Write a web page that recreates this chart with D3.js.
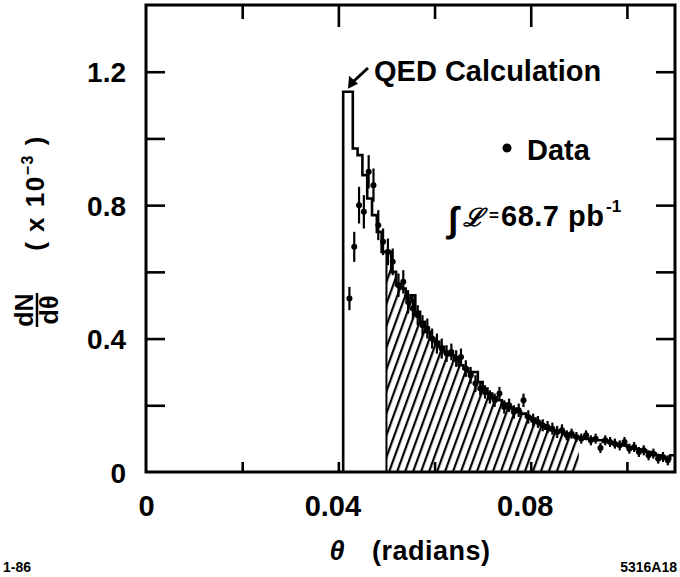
<!DOCTYPE html>
<html><head><meta charset="utf-8">
<script src="https://cdn.jsdelivr.net/npm/d3@7"></script>
<style>
body{margin:0;background:#fff}
svg{display:block}
text{font-family:"Liberation Sans",Arial,sans-serif;font-weight:bold;fill:#000}
</style>
</head><body>
<svg id="c" width="680" height="577"></svg>
<script>
// ---- data ----
const histTheta = [0.041,0.042,0.043,0.044,0.045,0.046,0.047,0.048,0.049,0.050,
  0.051,0.052,0.053,0.054,0.055,0.056,0.057,0.058,0.059,0.060,
  0.061,0.062,0.063,0.064,0.065,0.066,0.067,0.068,0.069,0.070,
  0.071,0.072,0.073,0.074,0.075,0.076,0.077,0.078,0.079,0.080,
  0.081,0.082,0.083,0.084,0.085,0.086,0.087,0.088,0.089,0.090,
  0.091,0.092,0.093,0.094,0.095,0.096,0.097,0.098,0.099,0.100,
  0.101,0.102,0.103,0.104,0.105,0.106,0.107,0.108,0.109];
const histValue = [1.14,1.14,0.97,0.95,0.89,0.82,0.77,0.72,0.66,0.66,
  0.60,0.56,0.55,0.52,0.53,0.48,0.45,0.42,0.40,0.39,
  0.375,0.36,0.35,0.335,0.32,0.31,0.30,0.30,0.27,0.25,
  0.235,0.225,0.215,0.205,0.195,0.19,0.18,0.175,0.165,0.16,
  0.15,0.14,0.13,0.125,0.12,0.12,0.115,0.11,0.105,0.105,
  0.10,0.10,0.095,0.095,0.09,0.09,0.085,0.08,0.08,0.075,
  0.07,0.068,0.065,0.06,0.055,0.05,0.045,0.04,0.05];
const histEnd = 0.110;

const dataTheta = [0.0423,0.0433,0.0443,0.0453,0.0463,0.0473,0.0483,0.0493,0.0503,0.0513,
  0.0525,0.0535,0.0545,0.0555,0.0565,0.0575,0.0585,0.0595,0.0605,0.0615,
  0.0625,0.0635,0.0645,0.0655,0.0665,0.0675,0.0685,0.0695,0.0705,0.0715,
  0.0725,0.0735,0.0745,0.0755,0.0765,0.0775,0.0785,0.0795,0.0805,0.0815,
  0.0825,0.0835,0.0845,0.0855,0.0865,0.0875,0.0885,0.0895,0.0905,0.0915,
  0.0925,0.0935,0.0945,0.0955,0.0965,0.0975,0.0985,0.0995,0.1005,0.1015,
  0.1025,0.1035,0.1045,0.1055,0.1065,0.1075,0.1085];
const dataValue = [0.52,0.675,0.80,0.78,0.90,0.86,0.74,0.69,0.66,0.63,
  0.56,0.57,0.51,0.49,0.47,0.44,0.43,0.40,0.385,0.37,
  0.355,0.36,0.34,0.345,0.31,0.29,0.265,0.25,0.24,0.225,
  0.215,0.235,0.195,0.20,0.18,0.185,0.215,0.165,0.155,0.15,
  0.14,0.135,0.13,0.12,0.125,0.11,0.115,0.105,0.10,0.11,
  0.095,0.10,0.072,0.095,0.09,0.085,0.08,0.09,0.07,0.075,
  0.06,0.065,0.05,0.055,0.04,0.045,0.035];
const dataError = [0.035,0.045,0.055,0.05,0.05,0.05,0.045,0.04,0.04,0.04,
  0.035,0.035,0.035,0.03,0.03,0.03,0.03,0.03,0.03,0.03,
  0.025,0.025,0.025,0.025,0.025,0.025,0.025,0.02,0.02,0.02,
  0.02,0.02,0.02,0.02,0.02,0.02,0.02,0.02,0.02,0.018,
  0.018,0.018,0.018,0.018,0.018,0.015,0.015,0.015,0.015,0.015,
  0.015,0.015,0.015,0.015,0.015,0.015,0.015,0.015,0.015,0.015,
  0.015,0.015,0.015,0.015,0.015,0.015,0.015];

const shadedRange = [0.050, 0.090];

const yTickValues = [0.2,0.4,0.6,0.8,1.0,1.2];
const yLabelValues = [0,0.4,0.8,1.2];
const yLabelText = ["0","0.4","0.8","1.2"];
const xTickValues = [0.02,0.04,0.06,0.08,0.10];
const xMajorTicks = [0.04,0.08];
const xLabelValues = [0,0.04,0.08];
const xLabelText = ["0","0.04","0.08"];

// ---- scales ----
const x = d3.scaleLinear().domain([0,0.11]).range([146,675]);
const y = d3.scaleLinear().domain([0,1.4]).range([472,5]);

const svg = d3.select("#c");

// hatch pattern
const defs = svg.append("defs");
const pat = defs.append("pattern").attr("id","hatch").attr("patternUnits","userSpaceOnUse")
  .attr("width",7.5).attr("height",30).attr("patternTransform","rotate(20)");
pat.append("line").attr("x1",2).attr("x2",2).attr("y1",-5).attr("y2",35)
  .attr("stroke","#000").attr("stroke-width",2.2);

// shaded area (under histogram within range)
const shadePts = [];
histTheta.forEach((t,i)=>{ if(t>=shadedRange[0]-1e-9 && t<shadedRange[1]-1e-9) shadePts.push([t,histValue[i]]); });
shadePts.push([shadedRange[1], shadePts[shadePts.length-1][1]]);
svg.append("path").datum(shadePts)
  .attr("d", d3.area().x(d=>x(d[0])).y0(y(0)).y1(d=>y(d[1])).curve(d3.curveStepAfter))
  .attr("fill","url(#hatch)").attr("stroke","none");
svg.append("line").attr("x1",x(shadedRange[0])).attr("x2",x(shadedRange[0]))
  .attr("y1",y(0)).attr("y2",y(histValue[histTheta.indexOf(0.050)]))
  .attr("stroke","#000").attr("stroke-width",2);

// histogram (QED calculation)
const histPts = [[histTheta[0],0]].concat(histTheta.map((t,i)=>[t,histValue[i]]));
histPts.push([histEnd, histValue[histValue.length-1]]);
svg.append("path").datum(histPts)
  .attr("d", d3.line().x(d=>x(d[0])).y(d=>y(d[1])).curve(d3.curveStepAfter))
  .attr("fill","none").attr("stroke","#000").attr("stroke-width",2.6);

// data points
const pts = svg.append("g");
dataTheta.forEach((t,i)=>{
  pts.append("line").attr("x1",x(t)).attr("x2",x(t))
    .attr("y1",y(dataValue[i]-dataError[i])).attr("y2",y(dataValue[i]+dataError[i]))
    .attr("stroke","#000").attr("stroke-width",2.2);
  pts.append("circle").attr("cx",x(t)).attr("cy",y(dataValue[i])).attr("r",3).attr("fill","#000");
});

// axes: ticks inward
const gL = svg.append("g").attr("transform",`translate(${x(0)},0)`)
  .call(d3.axisLeft(y).tickValues(yTickValues).tickSize(-19).tickFormat(""));
const gR = svg.append("g").attr("transform",`translate(${x(0.11)},0)`)
  .call(d3.axisRight(y).tickValues(yTickValues).tickSize(-19).tickFormat(""));
const gT = svg.append("g").attr("transform",`translate(0,${y(1.4)})`)
  .call(d3.axisTop(x).tickValues(xTickValues).tickSize(-14).tickFormat(""));
gT.selectAll(".tick line").filter(d=>xMajorTicks.includes(d)).attr("y2",22);
const gB = svg.append("g").attr("transform",`translate(0,${y(0)})`)
  .call(d3.axisBottom(x).tickValues(xTickValues).tickSize(-10).tickFormat(""));
[gL,gR,gT,gB].forEach(g=>{
  g.select(".domain").remove();
  g.selectAll(".tick line").attr("stroke","#000").attr("stroke-width",2.6);
});

// tick labels
const gLL = svg.append("g").attr("transform",`translate(${x(0)},0)`)
  .call(d3.axisLeft(y).tickValues(yLabelValues).tickSize(0).tickPadding(20)
    .tickFormat((d,i)=>yLabelText[i]));
gLL.select(".domain").remove();
gLL.selectAll("text").attr("font-size",28).attr("font-family","'Liberation Sans',Arial,sans-serif")
  .attr("font-weight","bold").attr("dy","0.36em");
const gBL = svg.append("g").attr("transform",`translate(0,${y(0)})`)
  .call(d3.axisBottom(x).tickValues(xLabelValues).tickSize(0).tickPadding(23)
    .tickFormat((d,i)=>xLabelText[i]));
gBL.select(".domain").remove();
gBL.selectAll("text").attr("font-size",29).attr("font-family","'Liberation Sans',Arial,sans-serif")
  .attr("font-weight","bold").attr("dx",(d)=>d===0?0:-6);

// frame
svg.append("rect").attr("x",x(0)).attr("y",y(1.4)).attr("width",x(0.11)-x(0)).attr("height",y(0)-y(1.4))
  .attr("fill","none").attr("stroke","#000").attr("stroke-width",3);

// QED annotation
svg.append("text").attr("x",374).attr("y",81).attr("font-size",29).text("QED Calculation");
const tipX = x(0.0418)+1, tipY = y(1.14)-3;
svg.append("line").attr("x1",368).attr("y1",68).attr("x2",tipX+4).attr("y2",tipY-6)
  .attr("stroke","#000").attr("stroke-width",3);
svg.append("path").attr("d",`M${tipX},${tipY} L${tipX+1},${tipY-13} L${tipX+10},${tipY-5} Z`).attr("fill","#000");

// legend: Data
svg.append("circle").attr("cx",507).attr("cy",148).attr("r",4.5).attr("fill","#000");
svg.append("text").attr("x",527).attr("y",160).attr("font-size",29).text("Data");

// luminosity
svg.append("text").attr("x",448).attr("y",232).attr("font-family","'DejaVu Serif',serif")
  .attr("font-style","italic").attr("font-weight","normal").attr("font-size",36).text("∫");
svg.append("text").attr("x",463).attr("y",226).attr("font-family","'DejaVu Sans',sans-serif")
  .attr("font-style","italic").attr("font-weight","bold").attr("font-size",25).text("ℒ");
svg.append("text").attr("x",489).attr("y",221).attr("font-size",17).text("=");
svg.append("text").attr("x",501).attr("y",226).attr("font-size",29).attr("letter-spacing",0.5).text("68.7 pb");
svg.append("text").attr("x",606).attr("y",212).attr("font-size",17).text("-1");

// axis titles
svg.append("text").attr("x",337).attr("y",560).attr("font-size",27).attr("font-style","italic")
  .attr("text-anchor","middle").text("θ");
svg.append("text").attr("x",372).attr("y",560).attr("font-size",27).attr("letter-spacing",0.5).text("(radians)");

const yt = svg.append("g").attr("transform","translate(37,310) rotate(-90)");
yt.append("text").attr("x",0).attr("y",-4).attr("text-anchor","middle").attr("font-size",25).text("dN");
yt.append("line").attr("x1",-17).attr("x2",17).attr("y1",0).attr("y2",0).attr("stroke","#000").attr("stroke-width",2.5);
yt.append("text").attr("x",0).attr("y",21).attr("text-anchor","middle").attr("font-size",25).text("dθ");

const yu = svg.append("text").attr("transform","translate(34,193) rotate(-90)").attr("y",10)
  .attr("text-anchor","middle").attr("font-size",26).attr("letter-spacing",1.5);
yu.append("tspan").text("( x 10");
yu.append("tspan").attr("font-size",16).attr("dy",-11).text("−3");
yu.append("tspan").attr("dy",11).text(" )");

// corner labels
svg.append("text").attr("x",3).attr("y",572).attr("font-size",14).text("1-86");
svg.append("text").attr("x",677).attr("y",572).attr("font-size",14).attr("text-anchor","end").text("5316A18");
</script>
</body></html>
